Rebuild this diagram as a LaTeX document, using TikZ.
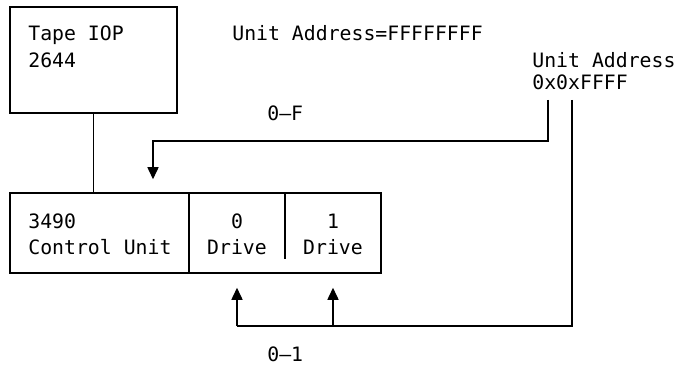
\documentclass[tikz,border=0pt]{standalone}
\usepackage{fontspec}
\setmonofont{DejaVu Sans Mono}
\usetikzlibrary{arrows.meta}

\tikzset{TUbox/.style={draw,line width=0.75pt,inner sep=0pt},
         TUlab/.style={font=\ttfamily\fontsize{9.9}{12}\selectfont,inner sep=0pt},
         TUbus/.style={line width=0.75pt},
         TUarr/.style={TUbus,-{Triangle[width=5.5pt,length=6pt]}}}

\begin{document}
\begin{tikzpicture}[x=0.5pt,y=-0.5pt]
  \useasboundingbox (0,0) rectangle (675,369);
  % boxes
  \node[TUbox,minimum width=83.5pt,minimum height=53pt] (iop) at (93.5,60) {};
  \node[TUbox,minimum width=185.5pt,minimum height=40pt] (ctl) at (195.5,233) {};
  \draw[TUbus] (189,193) -- (189,273);
  \draw[TUbus] (285,193) -- (285,259);
  % texts
  \node[TUlab,anchor=base west] (iopa) at (28,41) {Tape IOP};
  \node[TUlab,anchor=base west] (iopb) at (28,68) {2644};
  \node[TUlab,anchor=base west] (cua) at (28,228) {3490};
  \node[TUlab,anchor=base west] (cub) at (28,255) {Control Unit};
  \foreach \x/\n in {237/0,333/1}
    {\node[TUlab,anchor=base] (dn\n) at (\x,228) {\n};
     \node[TUlab,anchor=base] (dd\n) at (\x,255) {Drive};}
  \node[TUlab,anchor=base west] (uaf) at (232,41) {Unit Address=FFFFFFFF};
  \node[TUlab,anchor=base west] (ua) at (532,68) {Unit Address};
  \node[TUlab,anchor=base west] (ux) at (532,90) {0x0xFFFF};
  \node[TUlab,anchor=base west] (rngF) at (267,121) {0–F};
  \node[TUlab,anchor=base west] (rng1) at (267,361) {0–1};
  % connectors
  \coordinate (tapF) at (548,100);
  \coordinate (tap1) at (572,100);
  \coordinate (aF) at (153,141);
  \coordinate (a0) at (237,326);
  \coordinate (a1) at (333,326);
  \draw[TUbus] (iop.south) -- (iop.south |- ctl.north);
  \draw[TUarr,shorten >=6.5pt] (tapF) |- (aF) -- (aF |- ctl.north);
  \draw[TUbus] (tap1) |- (a0);
  \foreach \a in {a0,a1}
    \draw[TUarr,shorten >=7pt] (\a) -- (\a |- ctl.south);
\end{tikzpicture}
\end{document}
